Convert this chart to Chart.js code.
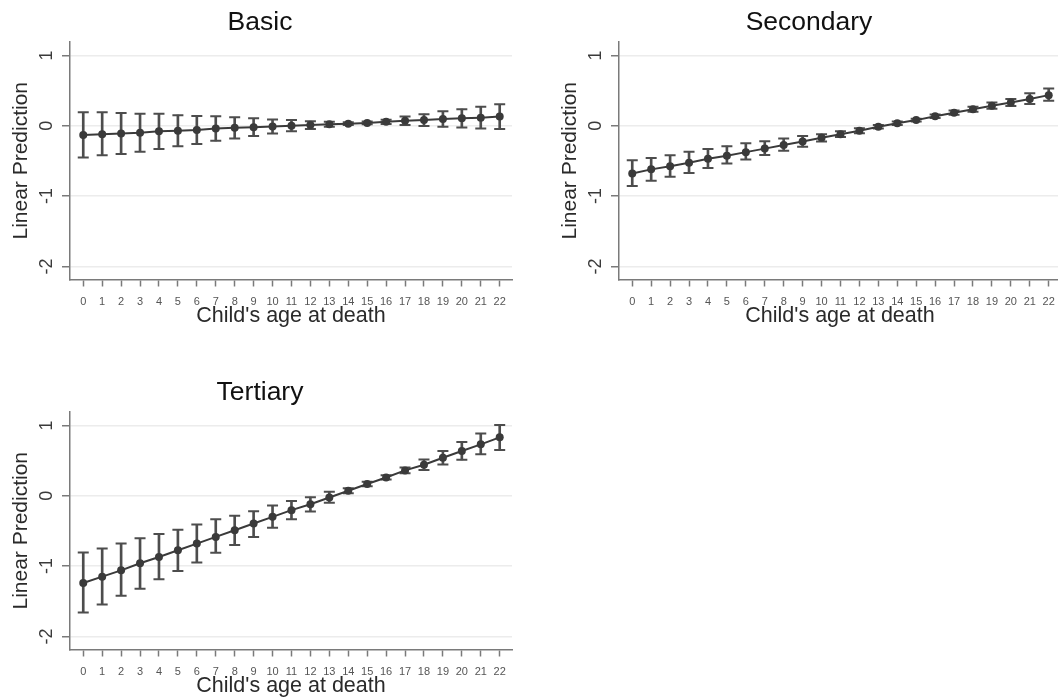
<!DOCTYPE html>
<html>
<head>
<meta charset="utf-8">
<title>Linear prediction by child's age at death</title>
<script src="https://cdn.jsdelivr.net/npm/chart.js@4.4.1/dist/chart.umd.min.js"></script>
<style>
  html, body { margin:0; padding:0; background:#fff; overflow:hidden; }
  #wrap { position:relative; width:1058px; height:699px; overflow:hidden; background:#fff; }
  .panel { position:absolute; width:520px; height:336px; }
</style>
</head>
<body>
<div id="wrap">
  <div class="panel" style="left:0;top:0"><canvas id="basic" width="520" height="336"></canvas></div>
  <div class="panel" style="left:549px;top:0"><canvas id="secondary" width="520" height="336"></canvas></div>
  <div class="panel" style="left:0;top:370px"><canvas id="tertiary" width="520" height="336"></canvas></div>
</div>
<script>
// === Datos ===
const ages = [0,1,2,3,4,5,6,7,8,9,10,11,12,13,14,15,16,17,18,19,20,21,22];
const yTicks = [-2,-1,0,1];

const basicMean = [-0.13,-0.12,-0.11,-0.10,-0.08,-0.07,-0.06,-0.04,-0.03,-0.02,-0.01,0.00,0.01,0.02,0.03,0.04,0.055,0.07,0.08,0.095,0.105,0.115,0.13];
const basicLow  = [-0.45,-0.42,-0.40,-0.37,-0.33,-0.29,-0.26,-0.215,-0.18,-0.145,-0.11,-0.08,-0.045,-0.015,0.01,0.02,0.025,0.01,-0.005,-0.015,-0.025,-0.04,-0.045];
const basicHigh = [0.19,0.19,0.18,0.17,0.17,0.15,0.14,0.135,0.12,0.105,0.09,0.08,0.065,0.055,0.05,0.06,0.085,0.13,0.165,0.205,0.235,0.27,0.305];

const secMean = [-0.68,-0.62,-0.575,-0.525,-0.47,-0.425,-0.375,-0.325,-0.275,-0.225,-0.17,-0.12,-0.07,-0.015,0.035,0.08,0.135,0.185,0.235,0.285,0.33,0.38,0.435];
const secLow  = [-0.855,-0.78,-0.725,-0.67,-0.60,-0.535,-0.48,-0.415,-0.355,-0.30,-0.225,-0.16,-0.105,-0.04,0.01,0.06,0.11,0.155,0.20,0.24,0.28,0.31,0.355];
const secHigh = [-0.49,-0.46,-0.42,-0.37,-0.33,-0.29,-0.25,-0.22,-0.18,-0.145,-0.12,-0.08,-0.035,0.01,0.06,0.10,0.16,0.215,0.27,0.33,0.38,0.46,0.53];

const terMean = [-1.24,-1.15,-1.06,-0.96,-0.87,-0.775,-0.68,-0.585,-0.49,-0.395,-0.30,-0.205,-0.12,-0.025,0.07,0.166,0.26,0.36,0.44,0.54,0.635,0.73,0.83];
const terLow  = [-1.66,-1.545,-1.42,-1.32,-1.185,-1.07,-0.95,-0.81,-0.70,-0.585,-0.455,-0.335,-0.225,-0.10,0.035,0.135,0.23,0.32,0.365,0.445,0.51,0.59,0.65];
const terHigh = [-0.805,-0.75,-0.68,-0.605,-0.545,-0.485,-0.41,-0.335,-0.285,-0.22,-0.14,-0.075,-0.02,0.055,0.105,0.20,0.29,0.40,0.515,0.635,0.765,0.885,1.005];

// === Estilo ===
Chart.defaults.font.family = "'Liberation Sans', Arial, sans-serif";
Chart.defaults.animation = false;

const MARK = '#3a3a3a';
const BAR = '#4d4d4d';
const AXIS = '#7a7a7a';

function panel(id, title, mean, low, high){
  const pts = vals => ages.map((a,i)=>({x:a, y:vals[i]}));
  new Chart(document.getElementById(id), {
    type: 'line',
    data: {
      datasets: [
        { type:'line', data: pts(mean), borderColor: MARK, borderWidth: 2,
          pointRadius: 4, pointBackgroundColor: MARK, pointBorderWidth: 0, order: 0 },
        { type:'bar', data: ages.map((a,i)=>({x:a, y:[low[i], high[i]]})),
          backgroundColor: BAR, barThickness: 2, order: 1 },
        { type:'line', showLine: false, data: pts(low).concat(pts(high)),
          pointStyle: 'line', pointRadius: 5.5, pointBorderColor: BAR, pointBorderWidth: 2, order: 1 }
      ]
    },
    options: {
      responsive: false,
      layout: { padding: 0 },
      plugins: {
        legend: { display: false },
        tooltip: { enabled: false },
        title: { display: true, text: title, color: '#111',
                 font: { size: 26.5, weight: 'normal' }, padding: { top: 7, bottom: 3.2 } }
      },
      scales: {
        x: {
          type: 'linear', min: -0.7, max: 22.65, offset: false,
          afterBuildTicks: s => { s.ticks = ages.map(v => ({ value: v })); },
          afterFit: s => { s.height = 56.5; s.paddingLeft = 0; s.paddingRight = 8; },
          grid: { offset: false, drawOnChartArea: false, tickLength: 7, tickColor: AXIS, tickWidth: 1.5 },
          border: { color: AXIS, width: 1.5 },
          ticks: { autoSkip: false, maxRotation: 0, padding: 8.5, color: '#555', font: { size: 11 } },
          title: { display: true, text: "Child's age at death", color: '#2a2a2a',
                   font: { size: 21.5 }, padding: { top: 0, bottom: 7.2 } }
        },
        y: {
          type: 'linear', min: -2.185, max: 1.19,
          afterBuildTicks: s => { s.ticks = yTicks.map(v => ({ value: v })); },
          afterFit: s => { s.width = 70; s.paddingTop = 0; s.paddingBottom = 0; },
          grid: { color: '#ececec', lineWidth: 1.5, tickLength: 8, tickColor: AXIS, tickWidth: 1.5 },
          border: { color: AXIS, width: 1.5 },
          ticks: { minRotation: 90, maxRotation: 90, crossAlign: 'center', padding: 7.2,
                   color: '#3a3a3a', font: { size: 18 } },
          title: { display: true, text: 'Linear Prediction', color: '#2a2a2a',
                   font: { size: 21 }, padding: { top: 8.2, bottom: 0 } }
        }
      }
    }
  });
}

panel('basic', 'Basic', basicMean, basicLow, basicHigh);
panel('secondary', 'Secondary', secMean, secLow, secHigh);
panel('tertiary', 'Tertiary', terMean, terLow, terHigh);
</script>
</body>
</html>
